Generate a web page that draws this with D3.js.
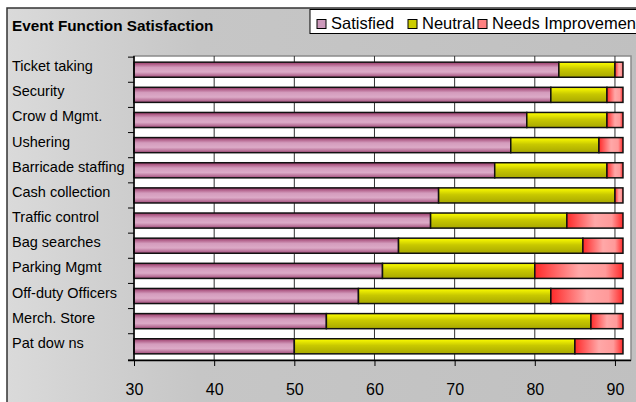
<!DOCTYPE html>
<html>
<head>
<meta charset="utf-8">
<script src="https://cdn.jsdelivr.net/npm/d3@7"></script>
<style>
  body { margin: 0; background: #fff; }
  text { font-family: "Liberation Sans", Arial, sans-serif; }
</style>
</head>
<body>
<div id="chart"></div>
<script>
// data
var categories = ["Ticket taking", "Security", "Crow d Mgmt.", "Ushering", "Barricade staffing",
  "Cash collection", "Traffic control", "Bag searches", "Parking Mgmt", "Off-duty Officers",
  "Merch. Store", "Pat dow ns"];
var satisfied = [83, 82, 79, 77, 75, 68, 67, 63, 61, 58, 54, 50];
var neutral   = [7, 7, 10, 11, 14, 22, 17, 23, 19, 24, 33, 35];
var needs     = [1, 2, 2, 3, 2, 1, 7, 5, 11, 9, 4, 6];
var seriesNames = ["Satisfied", "Neutral", "Needs Improvement"];
var xTicks = [30, 40, 50, 60, 70, 80, 90];

var width = 636, height = 402;

var svg = d3.select("#chart").append("svg")
  .attr("width", width)
  .attr("height", height);

var defs = svg.append("defs");

// background gradient
var bg = defs.append("linearGradient").attr("id", "bg")
  .attr("x1", 0).attr("y1", 0).attr("x2", 1).attr("y2", 0);
bg.append("stop").attr("offset", 0).attr("stop-color", "#dadada");
bg.append("stop").attr("offset", 0.3).attr("stop-color", "#c6c6c6");
bg.append("stop").attr("offset", 1).attr("stop-color", "#c0c0c0");

// bar fills
var gSat = defs.append("linearGradient").attr("id", "gSat")
  .attr("x1", 0).attr("y1", 0).attr("x2", 0).attr("y2", 1);
gSat.append("stop").attr("offset", 0).attr("stop-color", "#9a3868");
gSat.append("stop").attr("offset", 0.35).attr("stop-color", "#d49cbd");
gSat.append("stop").attr("offset", 0.65).attr("stop-color", "#dcaac7");
gSat.append("stop").attr("offset", 1).attr("stop-color", "#a24c7a");

var gNeu = defs.append("linearGradient").attr("id", "gNeu")
  .attr("x1", 0).attr("y1", 0).attr("x2", 0).attr("y2", 1);
gNeu.append("stop").attr("offset", 0).attr("stop-color", "#ffff00");
gNeu.append("stop").attr("offset", 0.45).attr("stop-color", "#c8c800");
gNeu.append("stop").attr("offset", 1).attr("stop-color", "#a8a800");

var gNeed = defs.append("linearGradient").attr("id", "gNeed")
  .attr("x1", 0).attr("y1", 0).attr("x2", 1).attr("y2", 0);
gNeed.append("stop").attr("offset", 0).attr("stop-color", "#ff2a2a");
gNeed.append("stop").attr("offset", 0.5).attr("stop-color", "#ffa8a8");
gNeed.append("stop").attr("offset", 0.8).attr("stop-color", "#ff9a9a");
gNeed.append("stop").attr("offset", 1).attr("stop-color", "#ff2a2a");

var fills = ["url(#gSat)", "url(#gNeu)", "url(#gNeed)"];
var swatch = ["#cc99bb", "#cccc00", "#ff8080"];

// outer frame
svg.append("rect")
  .attr("x", 7).attr("y", 8)
  .attr("width", width).attr("height", height)
  .attr("fill", "url(#bg)")
  .attr("stroke", "#333")
  .attr("stroke-width", 1.5);

// title
svg.append("text")
  .attr("x", 12).attr("y", 31)
  .attr("font-size", "15.3px")
  .attr("font-weight", "bold")
  .text("Event Function Satisfaction");

// scales
var x = d3.scaleLinear().domain([30, 92]).range([134, 631]);
var y = d3.scaleBand().domain(categories).range([56, 360])
  .paddingInner(0.4).paddingOuter(0.245);

// plot area
svg.append("rect")
  .attr("x", x(30)).attr("y", 56)
  .attr("width", x(92) - x(30)).attr("height", 304)
  .attr("fill", "#fff")
  .attr("stroke", "#8a8a8a")
  .attr("stroke-width", 1.5);

// grid
svg.append("g")
  .selectAll("line")
  .data(xTicks.slice(1))
  .enter()
  .append("line")
  .attr("x1", function (d) { return x(d); })
  .attr("x2", function (d) { return x(d); })
  .attr("y1", 56).attr("y2", 360)
  .attr("stroke", "#333")
  .attr("stroke-width", 1);

// stacked bars
var table = categories.map(function (c, i) {
  return { cat: c, Satisfied: satisfied[i], Neutral: neutral[i], "Needs Improvement": needs[i] };
});
var stack = d3.stack().keys(seriesNames)(table);

svg.append("g")
  .selectAll("g")
  .data(stack)
  .enter()
  .append("g")
  .attr("fill", function (d, i) { return fills[i]; })
  .selectAll("rect")
  .data(function (d) { return d; })
  .enter()
  .append("rect")
  .attr("x", function (d) { return x(Math.max(d[0], 30)); })
  .attr("y", function (d) { return y(d.data.cat); })
  .attr("width", function (d) { return x(d[1]) - x(Math.max(d[0], 30)); })
  .attr("height", y.bandwidth())
  .attr("stroke", "#111")
  .attr("stroke-width", 1.5);

// left axis line + ticks between bars
var step = y.step();
var yTicks = categories.map(function (c) { return y(c) - step * y.paddingInner() / 2; });
yTicks.push(360);
svg.append("line")
  .attr("x1", 134).attr("x2", 134)
  .attr("y1", 56).attr("y2", 361)
  .attr("stroke", "#000").attr("stroke-width", 1.5);
svg.append("g")
  .selectAll("line")
  .data(yTicks)
  .enter()
  .append("line")
  .attr("x1", 128).attr("x2", 134)
  .attr("y1", function (d) { return d; })
  .attr("y2", function (d) { return d; })
  .attr("stroke", "#000");

// category labels
svg.append("g")
  .selectAll("text")
  .data(categories)
  .enter()
  .append("text")
  .attr("x", 12)
  .attr("y", function (d) { return y(d) + y.bandwidth() / 2 + 1.5; })
  .attr("font-size", "14.5px")
  .attr("fill", "#000")
  .text(function (d) { return d; });

// bottom axis
var xAxis = svg.append("g")
  .attr("transform", "translate(0,360)")
  .call(d3.axisBottom(x).tickValues(xTicks).tickSize(6).tickPadding(18));
xAxis.select(".domain").attr("d", "M128,0.5H631").attr("stroke", "#000").attr("stroke-width", 1.5);
xAxis.selectAll(".tick line").attr("stroke", "#000");
xAxis.selectAll(".tick text")
  .attr("font-family", "Liberation Sans, Arial, sans-serif")
  .attr("font-size", "16px")
  .attr("fill", "#000");

// legend
var legend = svg.append("g");
legend.append("rect")
  .attr("x", 310).attr("y", 9.5)
  .attr("width", 340).attr("height", 24)
  .attr("fill", "#fff")
  .attr("stroke", "#000")
  .attr("stroke-width", 1);
var legX = [317, 408, 478];
seriesNames.forEach(function (s, i) {
  legend.append("rect")
    .attr("x", legX[i]).attr("y", 19.5)
    .attr("width", 9).attr("height", 9)
    .attr("fill", swatch[i])
    .attr("stroke", "#000");
  legend.append("text")
    .attr("x", legX[i] + 14).attr("y", 29)
    .attr("font-size", "16.5px")
    .text(s);
});
</script>
</body>
</html>
